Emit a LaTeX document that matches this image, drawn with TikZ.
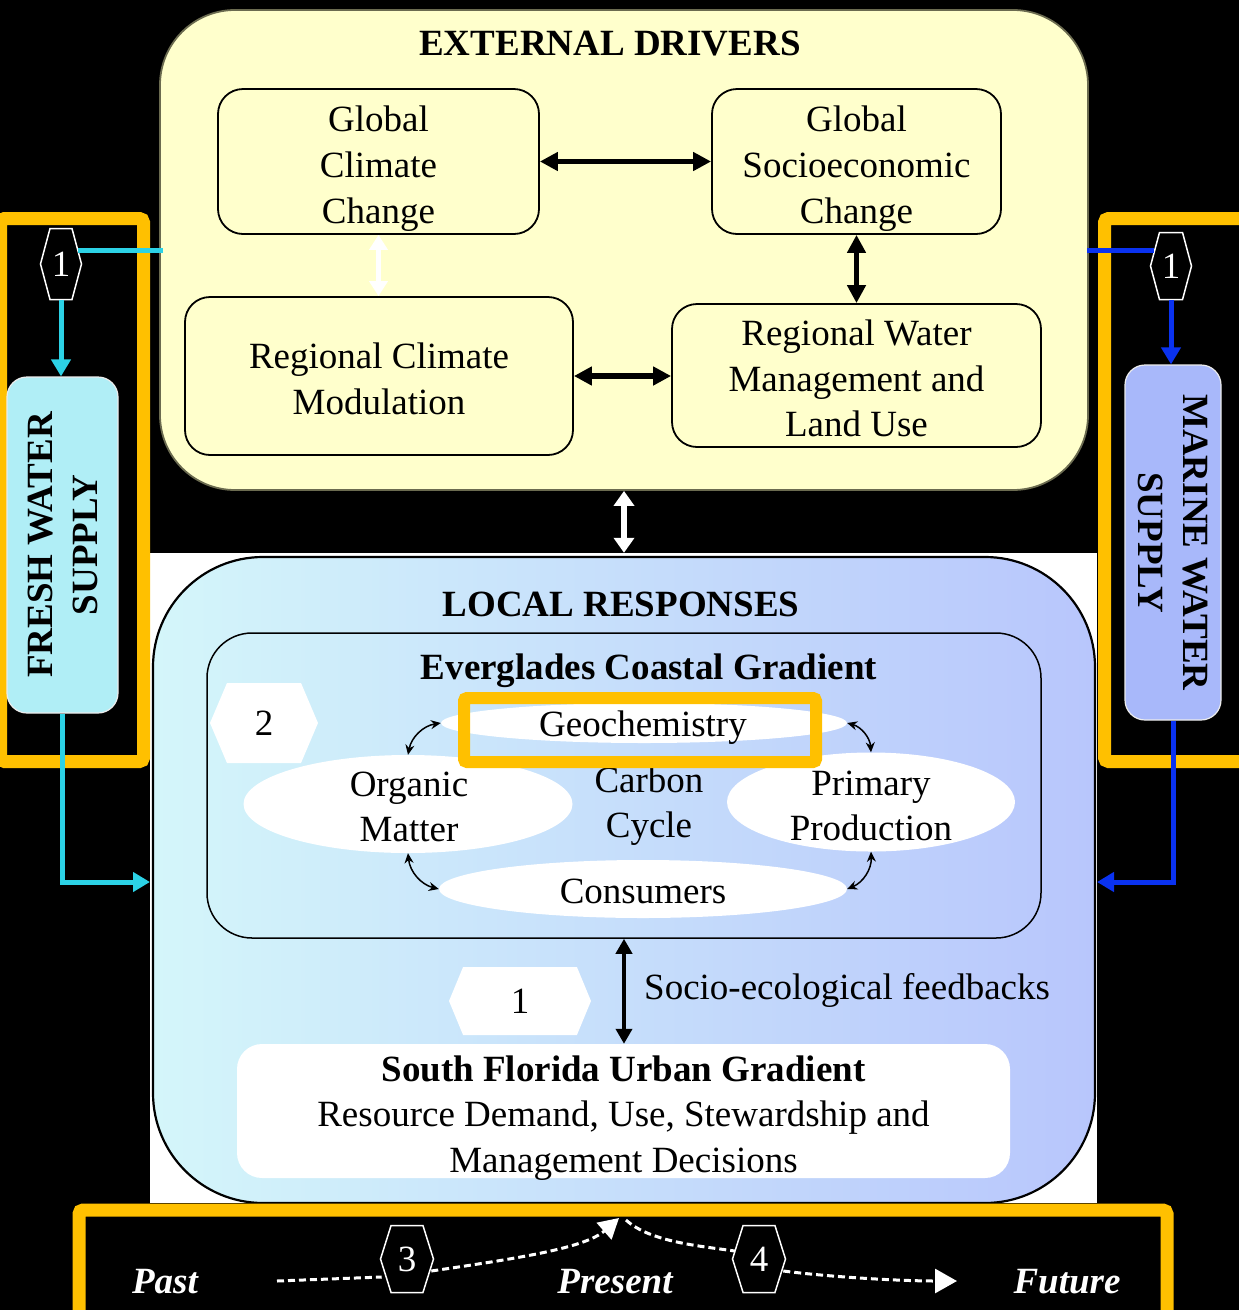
\documentclass[tikz,border=0pt]{standalone}
\usepackage{fontspec}
\setmainfont{Liberation Serif}
\usetikzlibrary{arrows.meta,shapes.geometric,shapes.symbols,calc}
\definecolor{edyellow}{HTML}{FFFFCC}
\definecolor{edborder}{HTML}{6B6B50}
\definecolor{lrleft}{HTML}{D4F6FA}
\definecolor{lrright}{HTML}{B8C6FC}
\definecolor{freshfill}{HTML}{B0EEF6}
\definecolor{marinefill}{HTML}{A8B8FA}
\definecolor{frameorange}{HTML}{FFC000}
\definecolor{cyanline}{HTML}{2CD2E6}
\definecolor{blueline}{HTML}{0A32F0}
\begin{document}
\begin{tikzpicture}[x=1pt,y=-1pt,
  every node/.style={font=\fontsize{37}{45.5}\selectfont, inner sep=0pt, align=center},
  inbox/.style={draw=black, line width=1.8pt, fill=edyellow, rounded corners=25pt},
  ell/.style={ellipse, fill=white, draw=none},
  bigdbl/.style={line width=5.5pt, {Triangle[length=18pt,width=18pt]}-{Triangle[length=18pt,width=18pt]}},
  whitedbl/.style={draw=white, line width=5pt, {Triangle[length=15pt,width=18pt]}-{Triangle[length=15pt,width=18pt]}},
  smalldbl/.style={line width=1.5pt, {Stealth[length=10pt,width=9pt]}-{Stealth[length=10pt,width=9pt]}},
  hexblack/.style={signal, signal to=east and west, fill=black, draw=white, line width=1.5pt, text=white},
  hexwhite/.style={signal, signal to=east and west, fill=white, draw=none, text=black},
  orangeframe/.style={draw=frameorange, line width=13pt, rounded corners=4pt},
  flowline/.style={line width=5pt, -{Triangle[length=17pt,width=19pt]}},
  whitedash/.style={draw=white, line width=3pt, dash pattern=on 7pt off 4pt},
  bottomlabel/.style={text=white, font=\bfseries\itshape\fontsize{37}{45}\selectfont}
]
\fill[black] (0,0) rectangle (1239,1310);
\useasboundingbox (0,0) rectangle (1239,1310);

% white backdrop
\node[fill=white, minimum width=947pt, minimum height=650pt] (whitebg) at (623.5,878) {};

% external drivers
\node[draw=edborder, line width=1.8pt, fill=edyellow, rounded corners=75pt,
      minimum width=928pt, minimum height=480pt] (ed) at (624,250) {};
\node[font=\bfseries\fontsize{37}{45}\selectfont] (edtitle) at (610,44) {EXTERNAL DRIVERS};
\node[inbox, minimum width=321pt, minimum height=145pt] (gcc) at (378.5,161.5) {};
\node[inbox, minimum width=289pt, minimum height=145pt] (gsc) at (856.5,161.5) {};
\node[inbox, minimum width=388pt, minimum height=158pt] (rcm) at (379,376) {};
\node[inbox, minimum width=369pt, minimum height=143pt] (rwm) at (856.5,375.5) {};
\node[font=\fontsize{37}{46}\selectfont] (gcctxt) at ($(gcc)+(0,7)$) {Global\\Climate\\Change};
\node[font=\fontsize{37}{46}\selectfont] (gsctxt) at ($(gsc)+(0,7)$) {Global\\Socioeconomic\\Change};
\node (rcmtxt) at ($(rcm)+(0,3)$) {Regional Climate\\Modulation};
\node (rwmtxt) at ($(rwm)+(0,3)$) {Regional Water\\Management and\\Land Use};
\draw[bigdbl] (gcc.east) -- (gsc.west);
\draw[bigdbl] (gsc.south) -- (gsc.south |- rwm.north);
\draw[bigdbl] (rcm.east) -- (rcm.east -| rwm.west);
\draw[whitedbl, line width=4.5pt] (gcc.south) -- (gcc.south |- rcm.north);

% local responses
\node[draw=black, line width=2.2pt, left color=lrleft, right color=lrright, rounded corners=110pt,
      minimum width=942pt, minimum height=646pt] (lr) at (624,880) {};
\draw[whitedbl, line width=6pt, {Triangle[length=15pt,width=20pt]}-{Triangle[length=15pt,width=20pt]}]
  (ed.south) -- (ed.south |- whitebg.north);
\node[font=\bfseries\fontsize{37}{45}\selectfont] (lrtitle) at (621,604) {LOCAL RESPONSES};
\node[draw=black, line width=1.5pt, rounded corners=45pt, minimum width=834pt, minimum height=305pt] (ecg) at (624,785.5) {};
\node[font=\bfseries\fontsize{37}{45}\selectfont] (ecgtitle) at (649,671) {Everglades Coastal Gradient};

\node[hexwhite, minimum width=108pt, minimum height=80pt, signal pointer angle=134] (h2) at (264,723) {2};

\node[ell, minimum width=406pt, minimum height=40pt] (geo) at (644,723) {};
\node[ell, minimum width=329pt, minimum height=98pt] (om) at (408,804) {};
\node[ell, minimum width=288pt, minimum height=99pt] (pp) at (871,802) {};
\node[ell, minimum width=408pt, minimum height=58pt] (cons) at (643,889) {};
\node (geotxt) at (643,728) {Geochemistry};
\node (omtxt) at (409,807) {Organic\\Matter};
\node (pptxt) at (871,806) {Primary\\Production};
\node (constxt) at (643,891) {Consumers};
\node (carbon) at (649,806) {Carbon\\Cycle};
\node[draw=frameorange, line width=12pt, rounded corners=3pt, minimum width=352pt, minimum height=64pt] (geoframe) at (640,730) {};

\draw[smalldbl] (geo.west) to[bend right=35] (om.north);
\draw[smalldbl] (geo.east) to[bend left=35] (pp.north);
\draw[smalldbl] (om.south) to[bend right=35] (cons.west);
\draw[smalldbl] (pp.south) to[bend left=35] (cons.east);

% south florida
\node[fill=white, rounded corners=25pt, minimum width=773pt, minimum height=134pt] (sf) at (623.5,1111) {};
\node (sftxt) at ($(sf)+(0,7)$)
  {{\bfseries South Florida Urban Gradient}\\Resource Demand, Use, Stewardship and\\Management Decisions};
\draw[line width=4pt, {Triangle[length=15pt,width=16pt]}-{Triangle[length=15pt,width=16pt]}]
  (ecg.south) -- (ecg.south |- sf.north);
\node[anchor=west] (socio) at (644,990) {Socio-ecological feedbacks};
\node[hexwhite, minimum width=142pt, minimum height=68pt, signal pointer angle=135] (h1m) at (520,1001) {1};

% orange frames
\draw[orangeframe] (0.5,218.5) rectangle (143.5,761.5);
\draw[orangeframe] (1104.5,218.5) rectangle (1250,761.5);
\draw[orangeframe] (79,1210) rectangle (1167,1335);

% supply boxes
\node[draw=white!85!gray, line width=1.2pt, fill=freshfill, rounded corners=20pt,
      minimum width=111pt, minimum height=336pt] (fresh) at (62.5,545) {};
\node[rotate=90, font=\bfseries\fontsize{37}{45}\selectfont] (freshtxt) at (fresh) {FRESH WATER\\SUPPLY};
\node[draw=white!85!gray, line width=1.2pt, fill=marinefill, rounded corners=20pt,
      minimum width=96pt, minimum height=355pt] (marine) at (1173,542.5) {};
\node[rotate=-90, font=\bfseries\fontsize{37}{45}\selectfont] (marinetxt) at (marine) {MARINE WATER\\SUPPLY};

% side hexagons and flows
\node[hexblack, minimum width=41pt, minimum height=71pt, signal pointer angle=150] (h1L) at (61,264) {1};
\node[hexblack, minimum width=41pt, minimum height=67pt, signal pointer angle=150] (h1R) at (1171,266) {1};
\coordinate (cyanstart) at (163,250);
\coordinate (bluestart) at (1087,250);
\coordinate (freshin) at (150,882);
\coordinate (marinein) at (1097,882);
\draw[draw=cyanline, line width=5pt] (cyanstart) -- (cyanstart -| {$(h1L.east)+(-4,0)$});
\draw[draw=cyanline, flowline] (h1L.south) -- (h1L.south |- fresh.north);
\draw[draw=cyanline, flowline] (fresh.south) |- (freshin);
\draw[draw=blueline, line width=5pt] (bluestart) -- (bluestart -| {$(h1R.west)+(4,0)$});
\draw[draw=blueline, flowline] (h1R.south) -- (h1R.south |- marine.north);
\draw[draw=blueline, flowline] (marine.south) |- (marinein);

% time line
\node[bottomlabel] (past) at (165,1282) {Past};
\node[bottomlabel] (present) at (615,1282) {Present};
\node[bottomlabel] (future) at (1067,1282) {Future};
\node[hexblack, minimum width=53pt, minimum height=67pt, signal pointer angle=145] (h3) at (407,1259) {3};
\node[hexblack, minimum width=53pt, minimum height=67pt, signal pointer angle=145] (h4) at (759,1259) {4};
\coordinate (dashstart) at (277,1281);
\coordinate (presentin) at (619,1218);
\coordinate (presentout) at (626,1220);
\coordinate (futurein) at (957,1281);
\draw[whitedash] (dashstart) -- ($(h3.west)+(2,18)$);
\draw[whitedash, -{Triangle[length=20pt,width=22pt]}] ($(h3.east)+(-3,12)$) .. controls (520,1258) and (585,1248) .. (presentin);
\draw[whitedash] (presentout) .. controls (650,1242) and (700,1246) .. ($(h4.west)+(3,-8)$);
\draw[whitedash, -{Triangle[length=22pt,width=24pt]}] ($(h4.east)+(-3,12)$) .. controls (830,1277) and (900,1281) .. (futurein);
\end{tikzpicture}
\end{document}
